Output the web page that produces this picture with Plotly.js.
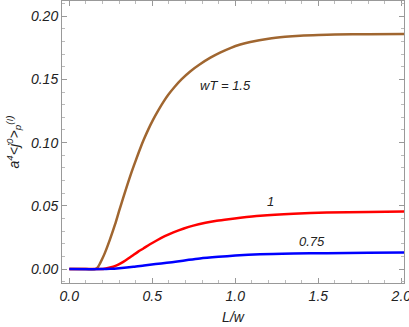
<!DOCTYPE html>
<html><head><meta charset="utf-8">
<script src="https://cdn.plot.ly/plotly-3.0.1.min.js"></script>
<style>html,body{margin:0;padding:0;background:#fff}#chart{width:409px;height:327px}</style>
</head><body><div id="chart"></div>
<script>
const brownX = [0, 0.1, 0.155, 0.17, 0.185, 0.2, 0.215, 0.245, 0.276, 0.3, 0.325, 0.35, 0.376, 0.40, 0.426, 0.45, 0.476, 0.505, 0.536, 0.565, 0.596, 0.635, 0.677, 0.73, 0.787, 0.85, 0.908, 0.97, 1.03, 1.09, 1.2, 1.3, 1.39, 1.5, 1.6, 1.8, 2.05];
const brownY = [0, 0, 0, 0.0012, 0.0045, 0.0085, 0.0130, 0.0235, 0.0355, 0.046, 0.0565, 0.0668, 0.0770, 0.0858, 0.0950, 0.1028, 0.1105, 0.1182, 0.1255, 0.1318, 0.1378, 0.1442, 0.1502, 0.1565, 0.1620, 0.1672, 0.1712, 0.1748, 0.1776, 0.1796, 0.1822, 0.1837, 0.1846, 0.1852, 0.1855, 0.1858, 0.186];
const redX = [0, 0.15, 0.185, 0.22, 0.265, 0.295, 0.325, 0.355, 0.386, 0.415, 0.446, 0.486, 0.526, 0.575, 0.627, 0.69, 0.747, 0.82, 0.888, 0.96, 1.03, 1.15, 1.35, 1.55, 1.8, 2.05];
const redY = [0, 0, 0, 0.0005, 0.0018, 0.0035, 0.0057, 0.0083, 0.0112, 0.0138, 0.0163, 0.0196, 0.0226, 0.0260, 0.0290, 0.0321, 0.0344, 0.0366, 0.0382, 0.0395, 0.0406, 0.0422, 0.0438, 0.0447, 0.0452, 0.0455];
const blueX = [0, 0.2, 0.245, 0.3, 0.386, 0.45, 0.52, 0.587, 0.65, 0.72, 0.787, 0.898, 1.0, 1.149, 1.35, 1.55, 1.8, 2.05];
const blueY = [0, 0, 0.0002, 0.0007, 0.0018, 0.0029, 0.004, 0.005, 0.006, 0.0073, 0.0084, 0.0097, 0.0107, 0.0117, 0.0123, 0.0126, 0.0129, 0.0131];
const labels = ["wT = 1.5", "1", "0.75"];
const labelX = [0.938, 1.21, 1.46];
const labelY = [0.145, 0.0538, 0.022];

const lineStyle = (c) => ({color: c, width: 2.5, shape: 'spline', smoothing: 0.7});
const data = [
  {x: brownX, y: brownY, mode: 'lines', line: lineStyle('rgb(160,102,48)'), hoverinfo: 'skip'},
  {x: redX, y: redY, mode: 'lines', line: lineStyle('rgb(255,0,0)'), hoverinfo: 'skip'},
  {x: blueX, y: blueY, mode: 'lines', line: lineStyle('rgb(0,0,255)'), hoverinfo: 'skip'}
];
const fam = 'Liberation Sans, Arial, sans-serif';
const tickFont = {family: fam, size: 14, color: '#222', style: 'italic'};
const axisCommon = {
  showline: true, linecolor: '#999', linewidth: 1, mirror: 'allticks',
  ticks: 'inside', ticklen: 5, tickcolor: '#999', tickwidth: 1,
  showgrid: false, zeroline: false, tickfont: tickFont, ticklabeloverflow: 'allow'
};
const layout = {
  width: 409, height: 327,
  margin: {l: 62, r: 5, t: 1, b: 44},
  paper_bgcolor: '#fff', plot_bgcolor: '#fff',
  showlegend: false,
  xaxis: Object.assign({}, axisCommon, {
    range: [-0.044, 2.016], tickvals: [0, 0.5, 1, 1.5, 2], tickformat: '.1f',
    minor: {ticks: 'inside', ticklen: 3, tickcolor: '#bbb', dtick: 0.1, tick0: 0, showgrid: false},
    title: {text: 'L/w', font: {family: fam, size: 14, color: '#222', style: 'italic'}, standoff: 9}
  }),
  yaxis: Object.assign({}, axisCommon, {
    range: [-0.011, 0.212], tickvals: [0, 0.05, 0.1, 0.15, 0.2], tickformat: '.2f',
    minor: {ticks: 'inside', ticklen: 3, tickcolor: '#bbb', dtick: 0.01, tick0: 0, showgrid: false},
    title: {text: 'a<sup>4</sup><j<sup>0</sup>><sub>p</sub><sup>(I)</sup>', font: {family: fam, size: 14, color: '#222', style: 'italic'}, standoff: 8}
  }),
  annotations: labels.map((t, i) => ({
    x: labelX[i], y: labelY[i], xref: 'x', yref: 'y', text: t, showarrow: false,
    font: {family: fam, size: 13, color: '#222', style: 'italic'}
  }))
};
Plotly.newPlot('chart', data, layout, {staticPlot: true, displayModeBar: false});
</script></body></html>
